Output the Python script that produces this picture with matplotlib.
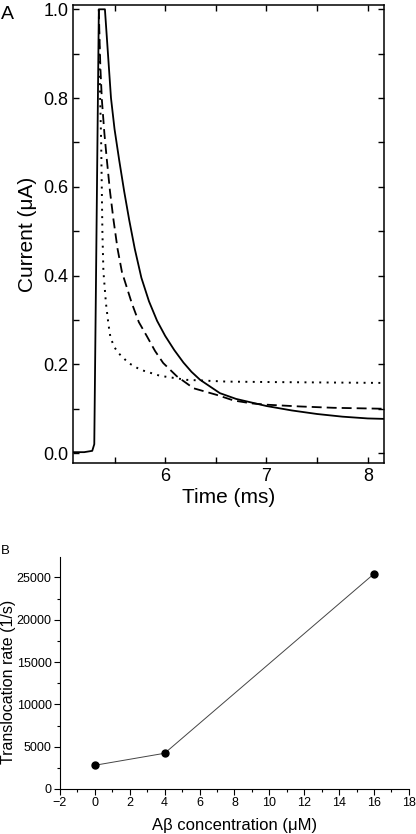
import matplotlib.pyplot as plt
from matplotlib.ticker import MultipleLocator

plt.rcParams['font.family'] = ['Liberation Sans', 'DejaVu Sans']

# Panel A: current traces (time in ms, current in uA)
t_solid = [5.09, 5.20, 5.28, 5.30, 5.345, 5.405, 5.435, 5.465, 5.50, 5.546, 5.595,
           5.645, 5.70, 5.765, 5.84, 5.92, 6.00, 6.09, 6.18, 6.26, 6.345, 6.54,
           6.70, 6.85, 7.00, 7.25, 7.50, 7.75, 8.00, 8.16]
i_solid = [0.002, 0.002, 0.005, 0.02, 1.0, 1.0, 0.90, 0.80, 0.73, 0.66, 0.59,
           0.525, 0.46, 0.395, 0.342, 0.298, 0.264, 0.232, 0.204, 0.183, 0.165, 0.135,
           0.122, 0.114, 0.106, 0.096, 0.088, 0.082, 0.078, 0.077]

t_dashed = [5.345, 5.35, 5.36, 5.375, 5.40, 5.424, 5.455, 5.49, 5.53, 5.573, 5.67,
            5.74, 5.82, 5.90, 5.98, 6.115, 6.28, 6.51, 6.675, 6.85, 7.00, 7.33,
            7.66, 8.16]
i_dashed = [1.0, 0.95, 0.87, 0.796, 0.72, 0.661, 0.59, 0.525, 0.46, 0.408, 0.338,
            0.295, 0.263, 0.23, 0.203, 0.173, 0.146, 0.131, 0.1185, 0.112, 0.109, 0.105,
            0.102, 0.0998]

t_dotted = [5.345, 5.35, 5.358, 5.368, 5.38, 5.39, 5.415, 5.44, 5.46, 5.50, 5.54,
            5.638, 5.753, 5.95, 6.21, 6.61, 7.04, 7.60, 8.16]
i_dotted = [1.0, 0.90, 0.80, 0.70, 0.50, 0.41, 0.338, 0.29, 0.26, 0.238, 0.225,
            0.203, 0.188, 0.174, 0.165, 0.161, 0.160, 0.159, 0.158]

# Panel B: translocation rate vs concentration
conc = [0, 4, 16]
rate = [2800, 4220, 25430]

fig = plt.figure(figsize=(4.16, 8.34), dpi=100)

# ---- panel A ----
axA = fig.add_axes([0.1755, 0.4448, 0.923 - 0.1755, 0.994 - 0.4448])
axA.plot(t_solid, i_solid, color='black', lw=1.3)
axA.plot(t_dashed, i_dashed, color='black', lw=1.3, dashes=(5.5, 2.8))
axA.plot(t_dotted, i_dotted, color='black', lw=1.4, dashes=(1, 2.8))
axA.set_xlim(5.09, 8.16)
axA.set_ylim(-0.0225, 1.0097)
axA.xaxis.set_major_locator(MultipleLocator(1))
axA.xaxis.set_minor_locator(MultipleLocator(0.5))
axA.yaxis.set_major_locator(MultipleLocator(0.2))
axA.yaxis.set_minor_locator(MultipleLocator(0.1))
axA.yaxis.set_major_formatter(plt.FuncFormatter(lambda v, p: f'{v:.1f}'))
axA.tick_params(which='both', direction='in', top=True, right=True,
                length=4, width=1, labelsize=13)
for s in axA.spines.values():
    s.set_linewidth(1.1)
axA.set_xlabel('Time (ms)', fontsize=15, labelpad=2)
axA.set_ylabel('Current (\u03bcA)', fontsize=15, labelpad=4)
fig.text(0.002, 0.993, 'A', fontsize=14, va='top', ha='left')

# ---- panel B ----
axB = fig.add_axes([0.1442, 0.054, 0.983 - 0.1442, 0.332 - 0.054])
axB.plot(conc, rate, color='#444444', lw=0.7, marker='o', ms=5,
         mfc='black', mec='black')
axB.set_xlim(-2, 18)
axB.set_ylim(0, 27400)
axB.xaxis.set_major_locator(MultipleLocator(2))
axB.xaxis.set_minor_locator(MultipleLocator(1))
axB.yaxis.set_major_locator(MultipleLocator(5000))
axB.yaxis.set_minor_locator(MultipleLocator(2500))
axB.spines['top'].set_visible(False)
axB.spines['right'].set_visible(False)
for s in ['left', 'bottom']:
    axB.spines[s].set_linewidth(0.8)
axB.tick_params(which='major', direction='out', length=4, width=0.8, labelsize=9, pad=2)
axB.tick_params(which='minor', direction='out', length=2.5, width=0.8)
axB.set_xlabel('A\u03b2 concentration (\u03bcM)', fontsize=12, labelpad=6)
axB.set_ylabel('Translocation rate (1/s)', fontsize=11.5, labelpad=1)
axB.yaxis.set_label_coords(-0.125, 0.46)
fig.text(0.002, 0.347, 'B', fontsize=9.5, va='top', ha='left')

fig.savefig('out.png', dpi=100)
